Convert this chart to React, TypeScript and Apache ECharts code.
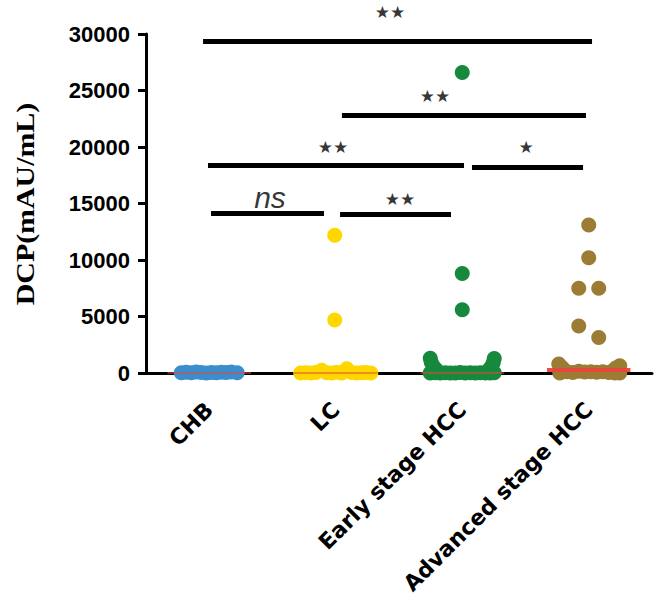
import React, { useEffect, useRef } from "react";
import * as echarts from "echarts";

// Categories
const categories = ["CHB", "LC", "Early stage HCC", "Advanced stage HCC"];

// DCP values (mAU/mL), per group
const chbValues = [30, 60, 20, 80, 40, 10, 50, 25, 70, 35, 90, 20];
// horizontal spread of each dot inside its column (fraction of column width)
const chbJitter = [-0.221, -0.182, -0.142, -0.103, -0.063, -0.024, 0.016, 0.055, 0.095, 0.134, 0.174, 0.221];

const lcValues = [12200, 4700, 0, 20, 0, 40, 250, 30, 0, 60, 10, 380, 40, 0, 20, 50, 0];
const lcJitter = [-0.008, -0.008, -0.277, -0.237, -0.198, -0.158, -0.111, -0.071, -0.032, 0.008, 0.047, 0.087, 0.126, 0.166, 0.206, 0.237, 0.277];

const earlyValues = [26600, 8800, 5600, 1300, 950, 600, 300, 1280, 900, 550, 250, 0, 20, 0, 30, 10, 0, 40, 0, 20, 0, 30, 10, 0, 20];
const earlyJitter = [0, 0, 0, -0.253, -0.245, -0.229, -0.206, 0.253, 0.245, 0.229, 0.206, -0.253, -0.213, -0.174, -0.134, -0.095, -0.055, -0.016, 0.024, 0.063, 0.103, 0.142, 0.182, 0.221, 0.253];

const advValues = [13100, 10200, 7500, 7500, 4150, 3150, 800, 500, 250, 650, 450, 200, 0, 100, 50, 150, 80, 120, 60, 100, 40, 0, 0];
const advJitter = [0, 0, -0.079, 0.079, -0.079, 0.079, -0.237, -0.213, -0.19, 0.245, 0.213, 0.19, -0.229, -0.174, -0.126, -0.079, -0.032, 0.016, 0.063, 0.111, 0.158, 0.206, 0.245];

// Group medians
const medians = [0, 0, 0, 250];

// Significance bars (x in column units, y in mAU/mL)
const sigFrom = [0.451, 1.549, 0.49, 2.577, 0.514, 1.534];
const sigTo = [3.526, 3.478, 2.514, 3.455, 1.407, 2.411];
const sigY = [29320, 22830, 18400, 18230, 14160, 14070];
const sigLabels = ["★★", "★★", "★★", "★", "ns", "★★"];
const sigLabelX = [1.929, 2.285, 1.478, 3.004, 0.98, 2.008];
const sigLabelY = [31950, 24510, 20000, 20000, 15490, 15400];

const groupValues = [chbValues, lcValues, earlyValues, advValues];
const groupJitter = [chbJitter, lcJitter, earlyJitter, advJitter];
const groupColors = ["#3b8ecb", "#ffd700", "#16893d", "#9c7c35"];

export default function App() {
  const ref = useRef<HTMLDivElement>(null);

  useEffect(() => {
    if (!ref.current) return;
    const chart = echarts.init(ref.current, null, { renderer: "svg" });

    const groupSeries = groupValues.map((vals, i) => ({
      type: "scatter",
      name: categories[i],
      xAxisIndex: 1,
      yAxisIndex: 0,
      symbolSize: 15,
      clip: false,
      silent: true,
      z: 2,
      itemStyle: { color: groupColors[i], opacity: 1 },
      data: vals.map((v, k) => [i + 0.5 + groupJitter[i][k], v]),
      markLine: {
        silent: true,
        symbol: ["none", "none"],
        label: { show: false },
        lineStyle: {
          color: "#e8463c",
          width: i === 3 ? 4 : 1.5,
          type: "solid",
          opacity: i === 3 ? 0.95 : 0.7,
        },
        data: [
          [
            { coord: [i + 0.5 - 0.33, medians[i]] },
            { coord: [i + 0.5 + 0.33, medians[i]] },
          ],
        ],
      },
    }));

    const sigSeries = {
      type: "scatter",
      name: "sig",
      xAxisIndex: 1,
      yAxisIndex: 0,
      symbolSize: 1,
      clip: false,
      silent: true,
      z: 3,
      itemStyle: { color: "rgba(0,0,0,0)" },
      label: {
        show: true,
        position: "inside",
        formatter: "{b}",
        color: "#000",
        fontSize: 17,
        fontFamily: "DejaVu Sans",
      },
      data: sigLabels.map((t, k) => ({
        name: t,
        value: [sigLabelX[k], sigLabelY[k]],
        label:
          t === "ns"
            ? { fontSize: 30, fontStyle: "italic", fontFamily: "Liberation Sans", color: "#000" }
            : undefined,
      })),
      markLine: {
        silent: true,
        symbol: ["none", "none"],
        label: { show: false },
        lineStyle: { color: "#000", width: 5, type: "solid", cap: "butt" },
        data: sigFrom.map((f, k) => [
          { coord: [f, sigY[k]] },
          { coord: [sigTo[k], sigY[k]] },
        ]),
      },
    };

    const option = {
      animation: false,
      grid: { left: 146, right: 8, top: 34, bottom: 230 },
      xAxis: [
        {
          type: "category",
          data: categories,
          boundaryGap: true,
          axisLine: { lineStyle: { color: "#000", width: 3 } },
          axisTick: { alignWithLabel: true, length: 11, lineStyle: { color: "#000", width: 2 } },
          axisLabel: {
            interval: 0,
            rotate: 45,
            margin: 33,
            color: "#000",
            fontFamily: "DejaVu Sans",
            fontWeight: "bold",
            fontSize: 22,
          },
          splitLine: { show: false },
        },
        { type: "value", min: 0, max: 4, show: false },
      ],
      yAxis: {
        type: "value",
        min: 0,
        max: 30000,
        interval: 5000,
        axisLine: { show: true, lineStyle: { color: "#000", width: 3 } },
        axisTick: { show: true, length: 8, lineStyle: { color: "#000", width: 3 } },
        axisLabel: {
          margin: 16,
          color: "#000",
          fontFamily: "Liberation Sans",
          fontWeight: "bold",
          fontSize: 22,
          formatter: (v: number) => String(v),
        },
        splitLine: { show: false },
      },
      graphic: [
        {
          type: "text",
          x: 25,
          y: 204,
          rotation: Math.PI / 2,
          scaleX: 1.15,
          style: {
            text: "DCP(mAU/mL)",
            fontFamily: "Liberation Serif",
            fontWeight: "bold",
            fontSize: 26,
            fill: "#000",
            align: "center",
            verticalAlign: "middle",
            textAlign: "center",
            textVerticalAlign: "middle",
          },
        },
      ],
      series: [...groupSeries, sigSeries],
    };

    chart.setOption(option as any);
    return () => chart.dispose();
  }, []);

  return (
    <div
      ref={ref}
      style={{ position: "fixed", left: 0, top: 0, width: 660, height: 603, background: "#fff" }}
    />
  );
}
